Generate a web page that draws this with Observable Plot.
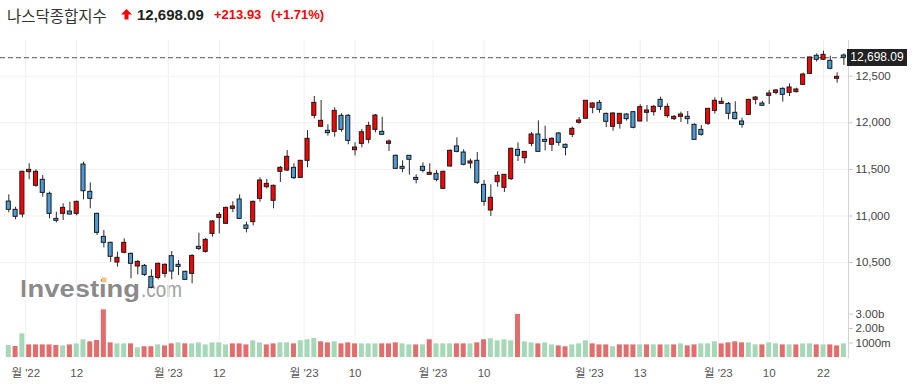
<!DOCTYPE html>
<html><head><meta charset="utf-8">
<script src="https://cdn.jsdelivr.net/npm/d3@7"></script>
<script src="https://cdn.jsdelivr.net/npm/@observablehq/plot@0.6"></script>
<style>
html,body{margin:0;padding:0;background:#fff;}
#wrap{position:relative;width:914px;height:384px;overflow:hidden;font-family:"Liberation Sans","Noto Sans CJK KR",sans-serif;}
.abs{position:absolute;white-space:nowrap;}
</style></head>
<body><div id="wrap">
<svg id="wm" class="abs" style="left:0;top:0" width="914" height="384"></svg>
<div id="t1" class="abs" style="left:7px;top:5px;font-family:'Noto Sans CJK KR';font-size:15.5px;color:#333;line-height:20px"></div>
<svg class="abs" style="left:121px;top:9px" width="11" height="11"><path d="M5.5 0 L11 5.5 L7.5 5.5 L7.5 10.5 L3.5 10.5 L3.5 5.5 L0 5.5 Z" fill="#f00"/></svg>
<div id="t2" class="abs" style="left:137px;top:5px;font-weight:bold;font-size:15px;color:#222;line-height:20px"></div>
<div id="t3" class="abs" style="left:214px;top:5px;font-weight:bold;font-size:13px;color:#f00;line-height:20px"></div>
<div id="t4" class="abs" style="left:271px;top:5px;font-weight:bold;font-size:13px;color:#f00;line-height:20px"></div>
<div id="price" class="abs" style="left:0;top:40px"></div>
<div id="vol" class="abs" style="left:0;top:299px"></div>
<div id="pbox" class="abs" style="background:#222;color:#fff;font-size:12px;text-align:center;width:60px;height:17px;line-height:17px;left:847px"></div>
</div>
<script>
// ---- data (Nasdaq Composite, daily, 124 sessions) ----
const opens = [11155,11066,11016,11470,11324,11388,11238,10969,11023,11048,
11023,11552,11259,11023,10776,10712,10501,10605,10594,10458,
10465,10347,10336,10379,10569,10476,10401,10379,10669,10615,
10808,10980,10916,11077,11177,10898,10934,11184,11309,11163,
11474,11488,11517,11409,11592,12075,11957,11914,11903,12075,
12075,11706,11774,11817,11924,11903,11774,11646,11527,11646,
11409,11527,11442,11452,11291,11531,11746,11681,11563,11592,
11334,11059,11363,11302,11395,11710,11620,11774,11874,11817,
11764,11885,11764,11871,12000,12043,12161,12214,12096,11957,
11989,12089,12114,12014,12107,12114,12246,12071,12039,12064,
12064,11978,11924,11989,12128,12203,12203,12107,12014,12085,
12246,12207,12289,12321,12364,12321,12329,12407,12525,12719,
12676,12665,12472,12722];
const highs = [11227,11095,11480,11560,11495,11434,11256,11041,11130,11148,
11159,11577,11356,11030,10844,10719,10612,10755,10601,10522,
10479,10422,10494,10487,10619,10522,10408,10583,10816,10758,
10951,11037,11095,11152,11227,10934,11159,11409,11392,11331,
11531,11703,11560,11595,11917,12282,12239,11978,12161,12096,
12089,11785,11928,12007,12089,12060,11817,11653,11592,11649,
11442,11570,11560,11488,11481,11710,11839,11710,11610,11681,
11381,11334,11474,11445,11728,11785,11692,11896,12021,11964,
11839,11896,11771,11953,12057,12239,12214,12239,12103,12107,
12100,12096,12121,12193,12186,12186,12275,12203,12078,12114,
12121,11989,11971,12153,12268,12268,12218,12225,12050,12254,
12282,12229,12347,12357,12375,12418,12372,12533,12704,12740,
12769,12715,12536,12740];
const lows = [11034,10959,10980,11388,11309,11202,10969,10926,10952,11009,
11002,11173,11077,10791,10658,10504,10451,10594,10326,10368,
10351,10218,10315,10336,10315,10361,10308,10272,10630,10601,
10773,10808,10909,11037,10966,10819,10894,11148,11291,11077,
11359,11477,11392,11402,11517,12043,11953,11857,11846,11899,
11764,11645,11731,11774,11892,11864,11692,11502,11463,11438,
11345,11463,11434,11367,11288,11524,11678,11538,11506,11338,
11105,10995,11309,11252,11381,11585,11560,11742,11686,11699,
11692,11749,11646,11842,11985,12035,12096,12103,11950,11910,
11932,12018,11935,12010,12007,12071,12132,12050,12025,12003,
11982,11814,11856,11971,12093,12196,12032,12032,11942,12082,
12193,12178,12196,12300,12221,12282,12321,12400,12522,12651,
12668,12568,12425,12615];
const closes = [11066,10991,11474,11495,11474,11248,11023,10948,11087,11016,
11152,11266,11184,10819,10712,10562,10551,10712,10487,10508,
10368,10229,10487,10476,10404,10454,10315,10572,10647,10744,
10941,11012,11087,11102,10969,10862,11152,11381,11345,11324,
11517,11635,11406,11592,11828,12214,12021,11889,12128,11924,
11806,11735,11899,11967,12078,11871,11799,11506,11506,11603,
11388,11485,11463,11388,11474,11699,11688,11549,11585,11356,
11152,11195,11431,11442,11721,11646,11688,11874,11688,11796,
11828,11785,11731,11935,12025,12236,12207,12139,12010,12100,
12096,12039,11946,12168,12132,12171,12171,12171,12064,12089,
12039,11817,11871,12150,12236,12225,12096,12039,11978,12246,
12271,12182,12314,12347,12300,12379,12357,12518,12701,12676,
12729,12579,12493,12698.09];
// volume in billions of shares
const volumes = [0.83,0.76,1.63,0.87,0.87,0.87,0.87,0.83,0.80,0.87,
0.94,1.22,1.08,1.17,3.29,1.01,0.94,0.94,0.94,0.67,
0.74,0.74,0.87,0.80,0.94,1.01,0.94,0.94,1.01,0.87,
1.01,1.01,0.87,0.94,0.94,0.87,1.15,1.01,0.87,0.94,
1.01,1.01,0.94,1.15,1.22,1.31,1.08,1.01,1.08,0.94,
1.01,0.94,0.94,0.94,0.94,0.94,0.94,1.01,0.94,0.87,
0.87,0.87,1.22,0.94,0.94,0.94,0.94,0.94,0.94,1.01,
1.22,1.29,1.15,1.22,1.15,2.97,1.08,1.01,0.94,1.01,
0.87,0.80,0.74,0.87,0.94,1.15,0.94,0.87,0.87,0.74,
0.87,0.87,0.87,0.87,0.87,0.87,0.87,0.87,0.87,0.94,
0.80,0.87,0.94,0.94,1.08,0.94,1.01,1.08,1.01,1.01,
0.87,0.87,1.01,0.94,0.87,0.87,0.87,0.94,0.94,0.87,
0.87,0.87,0.80,0.94];
// 1 = volume bar shown as up (green), 0 = down (red)
const volUp = [1,0,1,0,0,0,0,0,1,0,
1,1,0,0,0,0,1,1,0,1,
0,0,1,0,0,1,0,1,1,1,
1,1,1,0,0,0,1,1,0,0,
1,1,0,1,1,1,0,0,1,0,
0,0,1,1,1,0,0,0,1,1,
0,1,0,1,1,1,0,0,1,0,
0,1,1,1,1,0,1,1,0,1,
1,0,0,1,1,1,0,0,0,1,
0,0,0,1,0,1,0,1,0,1,
0,0,1,1,1,0,0,0,0,1,
1,0,1,1,0,1,0,1,1,0,
1,0,0,1];
const priceTicks = [10500, 11000, 11500, 12000, 12500];
const volTicks = [1, 2, 3];
const volTickLabels = ["1000m", "2.00b", "3.00b"];
// session index of each date label (month labels sit on the boundary between sessions)
const dateTickPos = [2.5, 10, 23.5, 31, 43.5, 51, 62.5, 70, 85.5, 93, 104.5, 112, 120];
const dateTickLabels = ["월 '22", "12", "월 '23", "12", "월 '23", "10", "월 '23", "10", "월 '23", "13", "월 '23", "10", "22"];
const titleText = "나스닥종합지수";
const lastText = "12,698.09";
const changeText = "+213.93";
const pctText = "(+1.71%)";

// ---- styles ----
const UP = "#ff0000", DOWN = "#4c9bd6";
const VUP = "#a6d8b8", VDOWN = "#e26d6d";
const FONT = "'Liberation Sans','Noto Sans CJK KR',sans-serif";
const xDomain = [-1.223, 123.68];

document.getElementById("t1").textContent = titleText;
document.getElementById("t2").textContent = lastText;
document.getElementById("t3").textContent = changeText;
document.getElementById("t4").textContent = pctText;

const candles = closes.map((c, i) => ({i, open: opens[i], high: highs[i], low: lows[i], close: c}));
const vols = volumes.map((v, i) => ({i, v, up: volUp[i]}));
const lastClose = closes[closes.length - 1];

const pricePlot = Plot.plot({
  width: 914, height: 259,
  marginLeft: 0, marginRight: 66, marginTop: 0, marginBottom: 0,
  style: {background: "transparent", fontFamily: FONT},
  x: {type: "linear", domain: xDomain, axis: null},
  y: {domain: [10104, 12883], label: null},
  color: {type: "identity"},
  marks: [
    Plot.gridX(dateTickPos, {stroke: "#efefef", strokeOpacity: 1}),
    Plot.gridY(priceTicks, {stroke: "#f0f0f0", strokeOpacity: 1}),
    Plot.frame({anchor: "right", stroke: "#d4d4d4"}),
    Plot.frame({anchor: "bottom", stroke: "#c4c4c4"}),
    Plot.axisY(priceTicks, {anchor: "right", tickFormat: d3.format(","), tickSize: 4, tickPadding: 3,
      fontSize: 11.5, stroke: "#c8c8c8", fill: "#444", label: null}),
    Plot.ruleY([lastClose], {stroke: "#555", strokeDasharray: "5,3"}),
    Plot.ruleX(candles, {x: "i", y1: "low", y2: "high", stroke: "#2a2a2a", strokeWidth: 1}),
    Plot.rect(candles, {x1: d => d.i - 0.3, x2: d => d.i + 0.3, y1: "open", y2: "close",
      fill: d => d.close >= d.open ? UP : DOWN, stroke: "#1a1a1a", strokeWidth: 1})
  ]
});
document.getElementById("price").appendChild(pricePlot);

const volPlot = Plot.plot({
  width: 914, height: 85,
  marginLeft: 0, marginRight: 66, marginTop: 0, marginBottom: 27,
  style: {background: "transparent", fontFamily: FONT},
  x: {type: "linear", domain: xDomain, label: null},
  y: {domain: [0, 4], label: null},
  color: {type: "identity"},
  marks: [
    Plot.gridX(dateTickPos, {stroke: "#efefef", strokeOpacity: 1}),
    Plot.frame({anchor: "right", stroke: "#d4d4d4"}),
    Plot.rect(vols, {x1: d => d.i - 0.37, x2: d => d.i + 0.37, y1: 0, y2: "v",
      fill: d => d.up ? VUP : VDOWN}),
    Plot.axisY(volTicks, {anchor: "right", tickFormat: d => volTickLabels[volTicks.indexOf(d)],
      tickSize: 4, tickPadding: 3, fontSize: 11.5, stroke: "#c8c8c8", fill: "#444", label: null}),
    Plot.axisX(dateTickPos, {anchor: "bottom", tickFormat: d => dateTickLabels[dateTickPos.indexOf(d)],
      tickSize: 0, tickPadding: 11, fontSize: 11.5, fill: "#555", label: null})
  ]
});
document.getElementById("vol").appendChild(volPlot);

// last price marker on the right axis, positioned with the plot's own y scale
const yPix = pricePlot.scale("y").apply(lastClose);
const pbox = document.getElementById("pbox");
pbox.textContent = d3.format(",.2f")(lastClose);
pbox.style.top = (40 + yPix - 8.5) + "px";

// watermark
const wm = d3.select("#wm");
wm.append("text").attr("x", 20).attr("y", 297).attr("font-family", "Liberation Sans")
  .attr("font-weight", "bold").attr("font-size", 24).attr("textLength", 120)
  .attr("lengthAdjust", "spacingAndGlyphs").attr("fill", "#8a8a8a").text("Investing");
wm.append("text").attr("x", 141).attr("y", 297).attr("font-family", "Liberation Sans")
  .attr("font-size", 22).attr("textLength", 41)
  .attr("lengthAdjust", "spacingAndGlyphs").attr("fill", "#a0a0a0").text(".com");
wm.append("rect").attr("x", 102).attr("y", 277.5).attr("width", 4.5).attr("height", 5)
  .attr("fill", "#f9c27c");
</script>
</body></html>
